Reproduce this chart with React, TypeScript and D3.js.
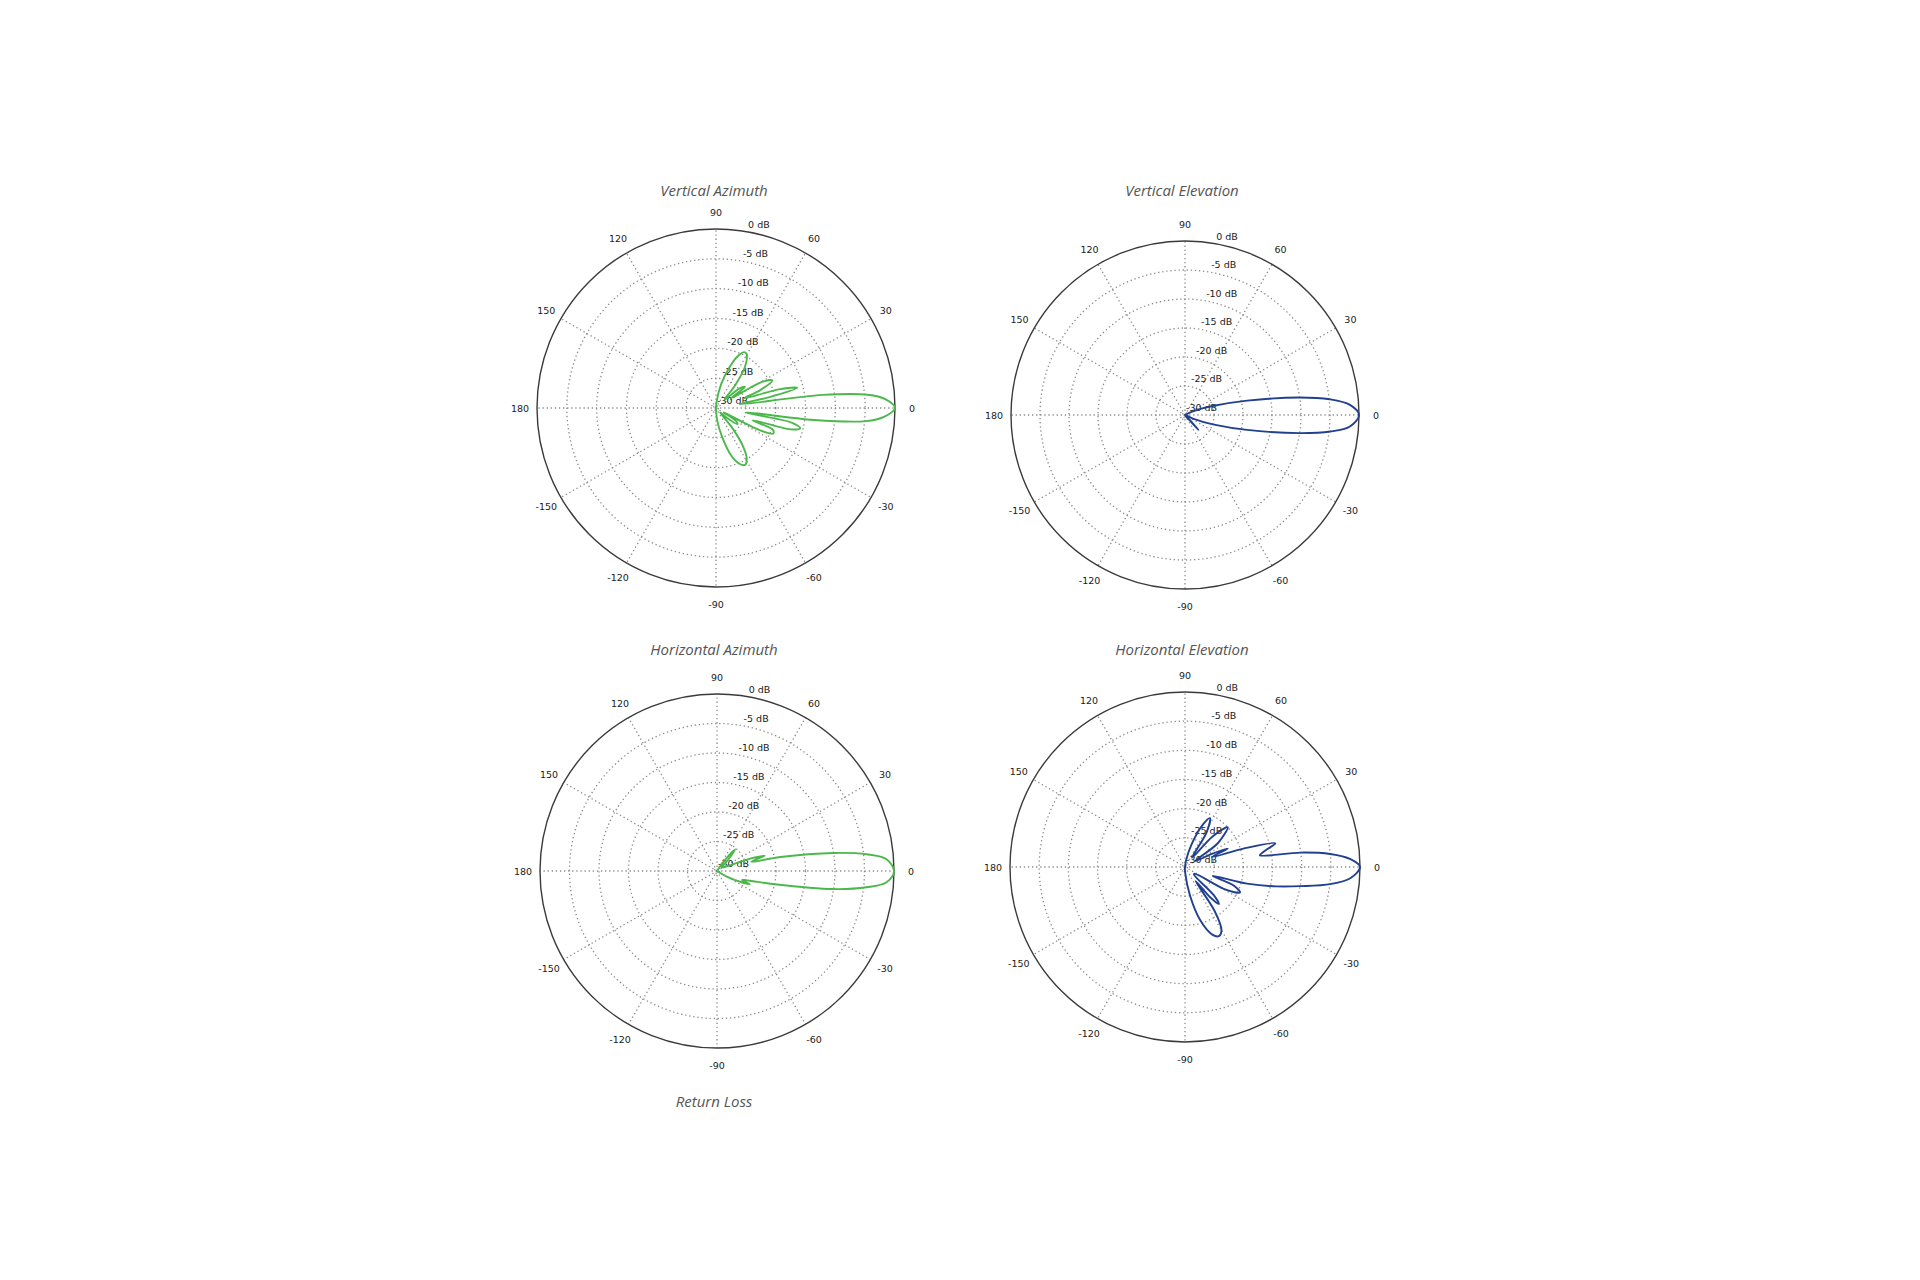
import React, { useRef, useEffect } from 'react';
import * as d3 from 'd3';

// radiation patterns: [angle in degrees (0 = right, ccw), gain in dB]
const verticalAzimuth: [number, number][] = [
  [-180, -30], [-150, -30], [-120, -30], [-95, -30], [-85, -28], [-78, -25], [-72, -21.5],
  [-67, -19.8], [-63, -19.3], [-59, -20], [-55, -22], [-51, -25.5], [-47, -29], [-42, -27.5],
  [-37, -25.5], [-33, -26], [-30, -28.5], [-27, -22], [-24, -19.5], [-21, -19.8], [-18.5, -23.5],
  [-16, -17], [-13.5, -15.5], [-11, -17], [-8.5, -25], [-7, -13.5], [-5, -4.8], [-3, -1.8], [0, 0],
  [3, -1.6], [5, -4.5], [7, -12], [9, -26], [11.5, -21], [14, -16], [16.5, -19], [19, -25],
  [22, -22], [26, -19.5], [29.5, -21], [33, -27], [36, -24], [40, -25], [44, -28], [50, -25],
  [55, -21.5], [60, -19.7], [63, -19.5], [67, -20.5], [72, -23], [78, -26], [85, -29], [95, -30],
  [120, -30], [150, -30], [180, -30],
];

const verticalElevation: [number, number][] = [
  [-180, -30], [-120, -30], [-70, -30], [-55, -29.5], [-50, -29], [-48, -26.5], [-46, -29],
  [-35, -30], [-25, -28.5], [-18, -24.5], [-13.5, -19], [-9, -10], [-6.5, -4.8], [-4, -1.5],
  [0, 0], [3.5, -1.5], [6.2, -4.9], [8.7, -10], [13, -19], [18, -25], [25, -28.5], [35, -30],
  [90, -30], [180, -30],
];

const horizontalAzimuth: [number, number][] = [
  [-180, -30], [-90, -30], [-45, -30], [-30, -28], [-24, -25], [-22, -24], [-20, -25.5],
  [-17, -24.5], [-13, -20], [-8.8, -10], [-6.2, -4.5], [-3.8, -1.2], [0, 0], [4, -1.2],
  [6.4, -4.5], [8.8, -10], [12.5, -19], [15, -24], [17.7, -21.5], [20.5, -24], [25, -28],
  [35, -29], [46, -27], [50, -25.2], [54, -27.5], [65, -30], [90, -30], [180, -30],
];

const horizontalElevation: [number, number][] = [
  [-180, -30], [-100, -30], [-88, -29], [-80, -25], [-74, -20.5], [-68, -17.5], [-64, -16.8],
  [-60, -17.5], [-56, -21], [-53, -27], [-50, -23], [-47.5, -21.4], [-44.5, -23], [-40, -28],
  [-35, -28], [-29, -22], [-25, -19.6], [-21, -21], [-18, -25], [-15, -19], [-12, -14],
  [-9.4, -9.9], [-6.7, -4.9], [-3.9, -1.6], [0, 0], [2.7, -1.6], [5.1, -5], [7.1, -10],
  [8.9, -17], [11.5, -16], [14.7, -14], [17.5, -19.5], [20.5, -25], [23.3, -22], [26, -25],
  [30, -28], [36, -23], [43, -20], [48, -23], [53, -28], [58, -23], [63, -20.6], [67, -22],
  [74, -26], [82, -29], [95, -30], [180, -30],
];

const angleTicks = [0, 30, 60, 90, 120, 150, 180, -150, -120, -90, -60, -30];
const dbTicks = [0, -5, -10, -15, -20, -25, -30];

const GREEN = '#4cb84c';
const BLUE = '#21408f';

const charts = [
  { title: 'Vertical Azimuth', data: verticalAzimuth, color: GREEN, cx: 716, cy: 408, r: 179, titleX: 714, titleY: 196 },
  { title: 'Vertical Elevation', data: verticalElevation, color: BLUE, cx: 1185, cy: 415, r: 174, titleX: 1182, titleY: 196 },
  { title: 'Horizontal Azimuth', data: horizontalAzimuth, color: GREEN, cx: 717, cy: 871, r: 177, titleX: 714, titleY: 655 },
  { title: 'Horizontal Elevation', data: horizontalElevation, color: BLUE, cx: 1185, cy: 867, r: 175, titleX: 1182, titleY: 655 },
];

const rad = (deg: number) => (deg * Math.PI) / 180;

const App: React.FC = () => {
  const ref = useRef<SVGSVGElement | null>(null);

  useEffect(() => {
    if (!ref.current) return;
    const svg = d3.select(ref.current);
    svg.selectAll('*').remove();

    svg.append('rect').attr('width', 1920).attr('height', 1280).attr('fill', '#fff');

    charts.forEach(c => {
      const g = svg.append('g').attr('transform', `translate(${c.cx},${c.cy})`);
      const rScale = d3.scaleLinear().domain([-30, 0]).range([0, c.r]).clamp(true);

      // dotted rings
      g.selectAll('circle.ring')
        .data(dbTicks.slice(1))
        .enter()
        .append('circle')
        .attr('class', 'ring')
        .attr('r', d => Math.max(rScale(d), 2.5))
        .attr('fill', 'none')
        .attr('stroke', '#8a8a8a')
        .attr('stroke-width', 1.3)
        .attr('stroke-dasharray', '1.3,2.8');

      // dotted spokes
      g.selectAll('line.spoke')
        .data(angleTicks)
        .enter()
        .append('line')
        .attr('x1', 0)
        .attr('y1', 0)
        .attr('x2', d => c.r * Math.cos(rad(d)))
        .attr('y2', d => -c.r * Math.sin(rad(d)))
        .attr('stroke', '#8a8a8a')
        .attr('stroke-width', 1.3)
        .attr('stroke-dasharray', '1.3,2.8');

      // outer circle
      g.append('circle')
        .attr('r', c.r)
        .attr('fill', 'none')
        .attr('stroke', '#3a3a3a')
        .attr('stroke-width', 1.4);

      // angle labels
      g.selectAll('text.ang')
        .data(angleTicks)
        .enter()
        .append('text')
        .attr('x', d => (c.r + 17) * Math.cos(rad(d)))
        .attr('y', d => -(c.r + 17) * Math.sin(rad(d)))
        .attr('text-anchor', 'middle')
        .attr('dominant-baseline', 'central')
        .attr('font-family', 'DejaVu Sans, sans-serif')
        .attr('font-size', 9.5)
        .attr('fill', '#1a1a1a')
        .text(d => `${d}`);

      // dB labels along 80 degrees
      g.selectAll('text.db')
        .data(dbTicks)
        .enter()
        .append('text')
        .attr('x', d => rScale(d) * Math.cos(rad(80)) + 1)
        .attr('y', d => -rScale(d) * Math.sin(rad(80)) - 4)
        .attr('font-family', 'DejaVu Sans, sans-serif')
        .attr('font-size', 9.5)
        .attr('fill', '#1a1a1a')
        .text(d => `${d} dB`);

      // pattern
      const line = d3.lineRadial<[number, number]>()
        .angle(d => Math.PI / 2 - rad(d[0]))
        .radius(d => rScale(d[1]))
        .curve(d3.curveCatmullRomClosed.alpha(0.5));

      g.append('path')
        .datum(c.data)
        .attr('fill', 'none')
        .attr('stroke', c.color)
        .attr('stroke-width', 1.9)
        .attr('stroke-linejoin', 'round')
        .attr('d', line as any);

      svg.append('text')
        .attr('x', c.titleX)
        .attr('y', c.titleY)
        .attr('text-anchor', 'middle')
        .attr('font-family', 'Open Sans, Lato, sans-serif')
        .attr('font-style', 'italic')
        .attr('font-size', 15)
        .attr('fill', '#555')
        .text(c.title);
    });

    svg.append('text')
      .attr('x', 714)
      .attr('y', 1107)
      .attr('text-anchor', 'middle')
      .attr('font-family', 'Open Sans, Lato, sans-serif')
      .attr('font-style', 'italic')
      .attr('font-size', 15)
      .attr('fill', '#555')
      .text('Return Loss');
  }, []);

  return (
    <svg
      ref={ref}
      width={1920}
      height={1280}
      style={{ position: 'absolute', left: 0, top: 0, display: 'block' }}
    />
  );
};

export default App;
